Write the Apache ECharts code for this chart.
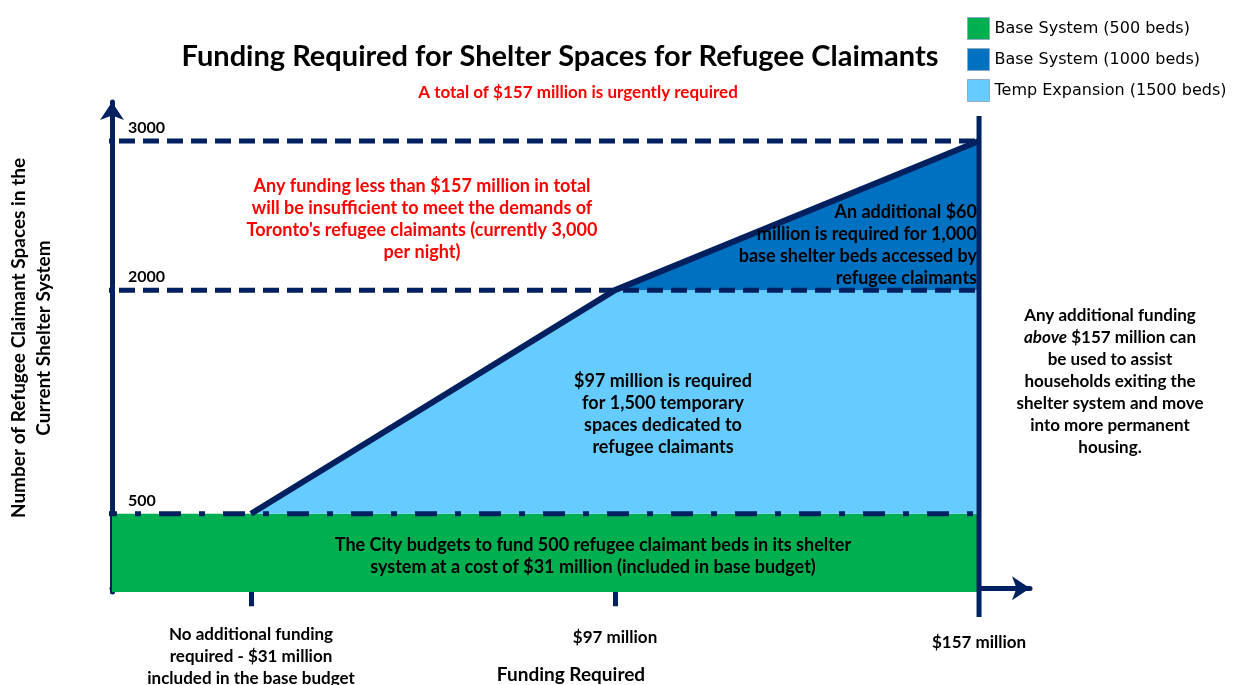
<!DOCTYPE html>
<html>
<head>
<meta charset="utf-8">
<script src="https://cdn.jsdelivr.net/npm/echarts@6/dist/echarts.min.js"></script>
<style>
  html, body { margin: 0; padding: 0; background: #fff; }
  #chart { width: 1242px; height: 685px; }
</style>
</head>
<body>
<div id="chart"></div>
<script>
// steps on the funding axis (not linear in $, so just 1,2,3)
const fundingSteps = [1, 2, 3];
const fundingLabels = [
  'No additional funding\nrequired - $31 million\nincluded in the base budget',
  '$97 million',
  '$157 million'
];
const spaceLabels = [500, 2000, 3000];

// areas
const baseArea = [[0.6181, 500], [3, 500]];
const tempArea = [[1, 500], [2, 2000], [3, 2000]];
const extraArea = [[2, 2000], [3, 3000]];
const outline = [[1, 500], [2, 2000], [3, 3000]];

// guide lines
const guideX = [0.5714, 3];
const dashedLevels = [3000, 2000];
const dashDotLevel = 500;
const endLine = [[3, 3168], [3, -193]];

const names = ['Base System (500 beds)', 'Base System (1000 beds)', 'Temp Expansion (1500 beds)'];

const navy = '#002060';
const colors = { green: '#00B050', dark: '#0070C0', light: '#66CCFF' };
const font = 'Lato, "Open Sans", sans-serif';

const myChart = echarts.init(document.getElementById('chart'));

const guideSeries = [];
dashedLevels.forEach(v => {
  guideSeries.push({
    type: 'line', clip: false, symbol: 'none', silent: true, z: 4,
    data: guideX.map(x => [x, v]),
    lineStyle: { color: navy, width: 5, type: [16, 8] }
  });
});
guideSeries.push({
  type: 'line', clip: false, symbol: 'none', silent: true, z: 4,
  data: guideX.map(x => [x, dashDotLevel]),
  lineStyle: { color: navy, width: 5, type: [22, 18, 6, 18] }
});

const option = {
  animation: false,
  textStyle: { fontFamily: font },
  title: [
    {
      text: 'Funding Required for Shelter Spaces for Refugee Claimants',
      left: 560, top: 42, textAlign: 'center', padding: 0,
      textStyle: { fontFamily: font, fontSize: 29, fontWeight: 'bold', color: '#000' }
    },
    {
      text: 'A total of $157 million is urgently required',
      left: 578, top: 84, textAlign: 'center', padding: 0,
      textStyle: { fontFamily: font, fontSize: 17, fontWeight: 'bold', color: '#FF0000' }
    }
  ],
  legend: {
    orient: 'vertical',
    left: 962, top: 12,
    itemWidth: 22, itemHeight: 22, itemGap: 8,
    icon: 'rect',
    textStyle: { fontFamily: '"DejaVu Sans"', fontSize: 16, color: '#000' },
    data: [
      { name: names[0], itemStyle: { color: colors.green, borderColor: '#8fa9c9', borderWidth: 1 } },
      { name: names[1], itemStyle: { color: colors.dark, borderColor: '#8fa9c9', borderWidth: 1 } },
      { name: names[2], itemStyle: { color: colors.light, borderColor: '#8fa9c9', borderWidth: 1 } }
    ]
  },
  grid: { left: 112, right: 212, top: 102, bottom: 93, outerBoundsMode: 'none' },
  xAxis: {
    type: 'value', min: 0.6181, max: 3.14,
    splitLine: { show: false },
    axisLine: { show: true, lineStyle: { color: navy, width: 5 }, symbol: ['none', 'arrow'], symbolSize: [18, 18] },
    axisTick: { show: true, customValues: [1, 2], length: 18, lineStyle: { color: navy, width: 5 } },
    axisLabel: {
      customValues: fundingSteps,
      margin: 32,
      verticalAlign: 'top',
      fontFamily: font, fontSize: 17, fontWeight: 'bold', color: '#000', lineHeight: 22,
      formatter: v => {
        const i = fundingSteps.indexOf(Math.round(v));
        if (i === 2) return '{c|' + fundingLabels[i] + '}';
        if (i === 1) return '{b|' + fundingLabels[i] + '}';
        return fundingLabels[i];
      },
      rich: {
        b: { fontFamily: font, fontSize: 17, fontWeight: 'bold', lineHeight: 22, padding: [6, 0, 0, 0] },
        c: { fontFamily: font, fontSize: 17, fontWeight: 'bold', lineHeight: 22, padding: [16, 0, 0, 0] }
      }
    },
    name: 'Funding Required',
    nameLocation: 'middle', nameGap: 73, nameMoveOverlap: false,
    nameTextStyle: { fontFamily: font, fontSize: 19, fontWeight: 'bold', color: '#000' }
  },
  yAxis: {
    type: 'value', min: -25, max: 3262,
    splitLine: { show: false },
    axisLine: { show: true, lineStyle: { color: navy, width: 5 }, symbol: ['none', 'arrow'], symbolSize: [18, 18] },
    axisTick: { show: false },
    axisLabel: {
      inside: true, customValues: spaceLabels, margin: 16,
      verticalAlign: 'bottom', padding: [0, 0, 5, 0],
      formatter: v => String(v),
      fontFamily: font, fontSize: 16, fontWeight: 'bold', color: '#000'
    }
  },
  graphic: [
    {
      type: 'text', x: 31, y: 338, rotation: Math.PI / 2, z: 10,
      style: {
        text: 'Number of Refugee Claimant Spaces in the\nCurrent Shelter System',
        x: 0, y: 0,
        font: 'bold 19px ' + font, fill: '#000', align: 'center', verticalAlign: 'middle', lineHeight: 25
      }
    },
    {
      type: 'text', z: 10,
      style: {
        text: "Any funding less than $157 million in total\nwill be insufficient to meet the demands of\nToronto's refugee claimants (currently 3,000\nper night)",
        x: 422, y: 175, align: 'center',
        font: 'bold 18px ' + font, fill: '#FF0000', lineHeight: 22
      }
    },
    {
      type: 'text', z: 10,
      style: {
        text: 'An additional $60\nmillion is required for 1,000\nbase shelter beds accessed by\nrefugee claimants',
        x: 977, y: 201, align: 'right',
        font: 'bold 18px ' + font, fill: '#000', lineHeight: 22
      }
    },
    {
      type: 'text', z: 10,
      style: {
        text: '$97 million is required\nfor 1,500 temporary\nspaces dedicated to\nrefugee claimants',
        x: 663, y: 370, align: 'center',
        font: 'bold 18px ' + font, fill: '#000', lineHeight: 22
      }
    },
    {
      type: 'text', z: 10,
      style: {
        text: 'The City budgets to fund 500 refugee claimant beds in its shelter\nsystem at a cost of $31 million (included in base budget)',
        x: 593, y: 534, align: 'center',
        font: 'bold 18px ' + font, fill: '#000', lineHeight: 22
      }
    },
    {
      type: 'text', z: 10,
      style: {
        text: 'Any additional funding\n{i|above} $157 million can\nbe used to assist\nhouseholds exiting the\nshelter system and move\ninto more permanent\nhousing.',
        x: 1110, y: 305, align: 'center',
        font: 'bold 17px ' + font, fill: '#000', lineHeight: 22,
        rich: {
          i: { fontFamily: font, fontSize: 17, fontWeight: 'bold', fontStyle: 'italic', lineHeight: 22 }
        }
      }
    }
  ],
  series: [
    {
      name: names[0], type: 'line', symbol: 'none', data: baseArea, z: 2,
      itemStyle: { color: colors.green },
      lineStyle: { width: 0 },
      areaStyle: { color: colors.green, opacity: 1, origin: 'start' }
    },
    {
      name: names[2], type: 'line', symbol: 'none', data: tempArea, z: 2,
      itemStyle: { color: colors.light },
      lineStyle: { width: 0 },
      areaStyle: { color: colors.light, opacity: 1, origin: 500 }
    },
    {
      name: names[1], type: 'line', symbol: 'none', data: extraArea, z: 2,
      itemStyle: { color: colors.dark },
      lineStyle: { width: 0 },
      areaStyle: { color: colors.dark, opacity: 1, origin: 2000 }
    },
    ...guideSeries,
    {
      type: 'line', symbol: 'none', data: outline, z: 5, silent: true,
      lineStyle: { color: navy, width: 6 }
    },
    {
      type: 'line', symbol: 'none', data: endLine, z: 6, silent: true, clip: false,
      lineStyle: { color: navy, width: 5 }
    }
  ]
};

myChart.setOption(option);
</script>
</body>
</html>
